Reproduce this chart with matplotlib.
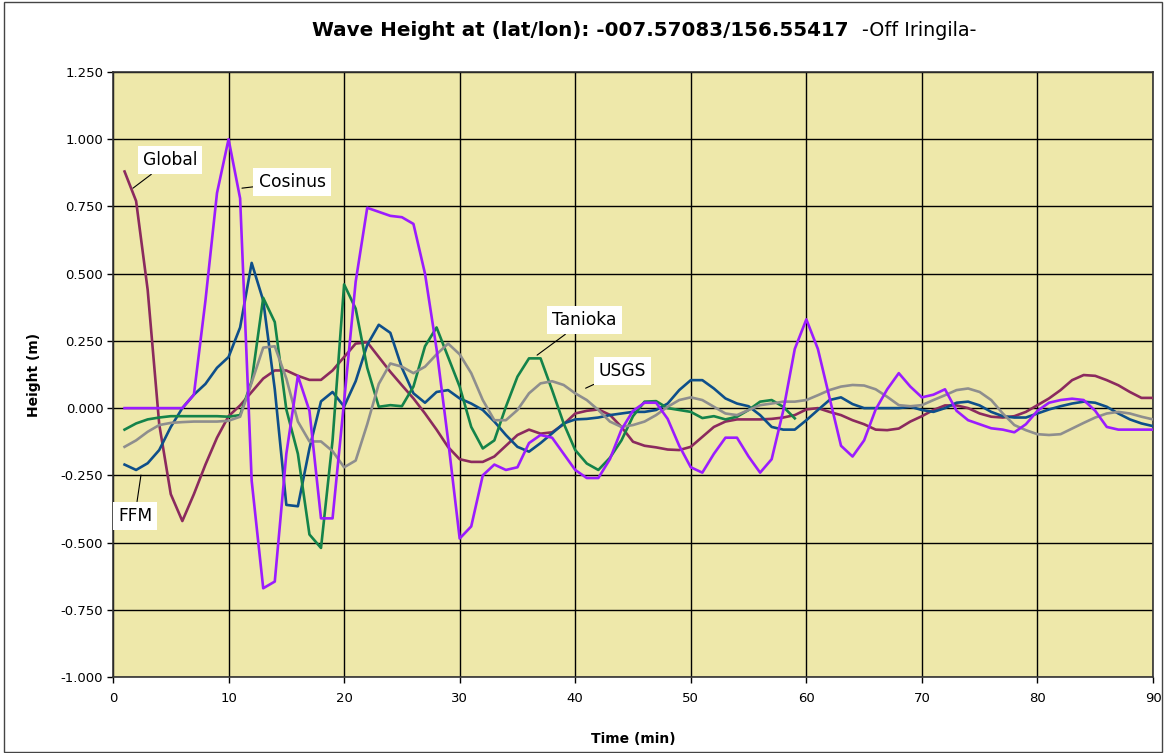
import matplotlib
matplotlib.use("Agg")
import matplotlib.pyplot as plt
import numpy as np
from matplotlib.patches import Rectangle

time_min = list(range(1, 91))

global_h = [0.88, 0.77, 0.44, -0.06, -0.32, -0.42, -0.32, -0.21, -0.11, -0.03,
            0.01, 0.06, 0.11, 0.14, 0.14, 0.12, 0.105, 0.105, 0.14, 0.19,
            0.24, 0.245, 0.19, 0.135, 0.085, 0.036, -0.02, -0.08, -0.145, -0.19,
            -0.2, -0.2, -0.18, -0.14, -0.1, -0.08, -0.095, -0.09, -0.06, -0.02,
            -0.01, -0.005, -0.025, -0.07, -0.125, -0.14, -0.146, -0.154, -0.156, -0.144,
            -0.107, -0.07, -0.05, -0.042, -0.042, -0.042, -0.04, -0.035, -0.026, -0.005,
            0.0, -0.014, -0.026, -0.045, -0.06, -0.08, -0.082, -0.076, -0.05, -0.03,
            -0.007, 0.01, 0.01, 0.0, -0.02, -0.032, -0.035, -0.03, -0.014, 0.011,
            0.036, 0.067, 0.104, 0.123, 0.12, 0.104, 0.085, 0.06, 0.038, 0.038]

cosinus_h = [0.0, 0.0, 0.0, 0.0, 0.0, 0.0, 0.05, 0.40, 0.80, 1.0,
             0.78, -0.27, -0.67, -0.645, -0.17, 0.12, -0.01, -0.41, -0.41, 0.025,
             0.47, 0.745, 0.73, 0.715, 0.71, 0.685, 0.50, 0.22, -0.12, -0.485,
             -0.44, -0.25, -0.21, -0.23, -0.22, -0.13, -0.10, -0.11, -0.17, -0.23,
             -0.26, -0.26, -0.19, -0.08, -0.01, 0.02, 0.02, -0.04, -0.14, -0.22,
             -0.24, -0.17, -0.11, -0.11, -0.18, -0.24, -0.19, -0.01, 0.22, 0.33,
             0.22, 0.04, -0.14, -0.18, -0.12, -0.005, 0.07, 0.13, 0.08, 0.04,
             0.05, 0.07, -0.01, -0.045, -0.06, -0.075, -0.08, -0.09, -0.06, -0.01,
             0.02, 0.03, 0.035, 0.03, -0.01, -0.07, -0.08, -0.08, -0.08, -0.08]

ffm_h = [-0.21, -0.23, -0.205, -0.156, -0.07, 0.0, 0.05, 0.09, 0.15, 0.19,
         0.30, 0.54, 0.40, 0.07, -0.36, -0.365, -0.15, 0.025, 0.06, 0.006,
         0.1, 0.235, 0.31, 0.28, 0.15, 0.055, 0.02, 0.06, 0.067, 0.036,
         0.017, -0.007, -0.05, -0.1, -0.144, -0.162, -0.13, -0.094, -0.057, -0.042,
         -0.04, -0.035, -0.026, -0.02, -0.014, -0.014, -0.007, 0.017, 0.067, 0.104,
         0.104, 0.073, 0.036, 0.017, 0.007, -0.026, -0.07, -0.08, -0.08, -0.045,
         -0.007, 0.03, 0.04, 0.015, 0.0, 0.0, 0.0, 0.0, 0.005, -0.007,
         -0.014, 0.0, 0.02, 0.024, 0.01, -0.014, -0.03, -0.035, -0.035, -0.02,
         -0.005, 0.007, 0.017, 0.024, 0.02, 0.005, -0.02, -0.042, -0.057, -0.067]

tanioka_time = list(range(1, 60))
tanioka_h = [-0.08, -0.057, -0.042, -0.035, -0.03, -0.03, -0.03, -0.03, -0.03, -0.032,
             -0.026, 0.1, 0.41, 0.32, -0.005, -0.17, -0.47, -0.52, -0.12, 0.46,
             0.37, 0.15, 0.005, 0.011, 0.007, 0.08, 0.23, 0.30, 0.19, 0.08,
             -0.07, -0.15, -0.12, 0.005, 0.117, 0.185, 0.185, 0.067, -0.057, -0.156,
             -0.206, -0.23, -0.185, -0.12, -0.03, 0.024, 0.026, 0.0, -0.007, -0.014,
             -0.037, -0.03, -0.042, -0.032, -0.007, 0.024, 0.03, 0.005, -0.038]

usgs_h = [-0.144, -0.12, -0.088, -0.063, -0.055, -0.052, -0.05, -0.05, -0.05, -0.047,
          -0.032, 0.095, 0.225, 0.23, 0.11, -0.05, -0.124, -0.124, -0.16, -0.22,
          -0.195, -0.06, 0.09, 0.166, 0.154, 0.13, 0.154, 0.2, 0.24, 0.2,
          0.13, 0.03, -0.045, -0.045, -0.007, 0.055, 0.092, 0.1, 0.086, 0.055,
          0.03, -0.007, -0.05, -0.07, -0.063, -0.05, -0.026, 0.005, 0.03, 0.04,
          0.03, 0.005, -0.02, -0.026, -0.007, 0.011, 0.017, 0.024, 0.024, 0.03,
          0.048, 0.067, 0.08, 0.086, 0.084, 0.07, 0.042, 0.011, 0.007, 0.011,
          0.03, 0.048, 0.067, 0.073, 0.06, 0.03, -0.02, -0.063, -0.082, -0.097,
          -0.1, -0.097, -0.076, -0.055, -0.035, -0.02, -0.014, -0.02, -0.032, -0.042]

x_ticks = list(range(0, 91, 10))
y_ticks = [-1.0, -0.75, -0.5, -0.25, 0.0, 0.25, 0.5, 0.75, 1.0, 1.25]

title_main = "Wave Height at (lat/lon): -007.57083/156.55417"
title_sub = "-Off Iringila-"

plt.rcParams['font.family'] = ['DejaVu Sans']

W, H = 1165, 753
fig = plt.figure(figsize=(W / 100, H / 100), dpi=100)
fig.patch.set_facecolor('white')
ax = fig.add_axes([113 / W, 1 - 677 / H, (1153 - 113) / W, (677 - 72) / H])
ax.set_facecolor('#EEE8AA')

lw = 1.9
ax.plot(time_min, global_h, color='#8B2A5E', lw=lw, zorder=3)
ax.plot(time_min, ffm_h, color='#0E4F8A', lw=lw, zorder=3)
ax.plot(tanioka_time, tanioka_h, color='#14834A', lw=lw, zorder=3)
ax.plot(time_min, usgs_h, color='#8E8E8E', lw=lw, zorder=3)
ax.plot(time_min, cosinus_h, color='#9B1CFF', lw=lw, zorder=4)

ax.set_xlim(0, 90)
ax.set_ylim(-1.0, 1.25)
ax.set_xticks(x_ticks)
ax.set_yticks(y_ticks)
ax.set_yticklabels([f"{v:.3f}" for v in y_ticks])
ax.grid(True, color='black', lw=1.0, zorder=1)
ax.set_axisbelow(True)
for s in ax.spines.values():
    s.set_color('#333333')
    s.set_linewidth(1.2)
ax.tick_params(direction='out', length=4, width=1, colors='black', labelsize=9.5)
ax.tick_params(axis='x', pad=7)
ax.tick_params(axis='y', pad=3)

ax.set_xlabel("Time (min)", fontsize=10, fontweight='bold', labelpad=19)
ax.set_ylabel("Height (m)", fontsize=10, fontweight='bold', labelpad=14)

fig.text(312 / W, 1 - 30 / H, title_main, fontsize=14.3, fontweight='bold',
         va='center', ha='left')
fig.text(862 / W, 1 - 30 / H, title_sub, fontsize=13.8, va='center', ha='left')

bbox = dict(boxstyle='square,pad=0.3', fc='white', ec='none')
arrow = dict(arrowstyle='-', color='black', lw=0.8, shrinkA=0, shrinkB=0)
labels = [("Global", (1.73, 0.818), (4.93, 0.922)),
          ("Cosinus", (11.16, 0.818), (15.5, 0.84)),
          ("FFM", (2.42, -0.249), (1.9, -0.40)),
          ("Tanioka", (36.7, 0.197), (40.8, 0.327)),
          ("USGS", (40.9, 0.074), (44.1, 0.138))]
for txt, xy, xyt in labels:
    ax.annotate(txt, xy=xy, xytext=xyt, fontsize=12.3, ha='center', va='center',
                bbox=bbox, arrowprops=arrow, zorder=6)

fig.add_artist(Rectangle((4 / W, 1 / H), (1162 - 4) / W, (751 - 1) / H,
                         transform=fig.transFigure, fill=False, ec='#444444', lw=1.0))

fig.savefig("out.png", dpi=100, facecolor='white')
